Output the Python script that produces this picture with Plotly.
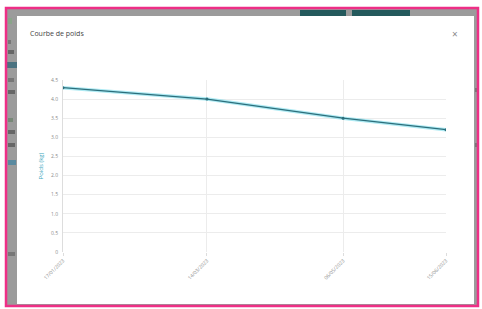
import plotly.graph_objects as go

# Data
dates = ["2023-01-17", "2023-03-14", "2023-05-06", "2023-06-15"]
date_labels = ["17/01/2023", "14/03/2023", "06/05/2023", "15/06/2023"]
weights = [4.3, 4.0, 3.5, 3.2]
y_ticks = [0, 0.5, 1.0, 1.5, 2.0, 2.5, 3.0, 3.5, 4.0, 4.5]
y_tick_text = ["0", "0.5", "1.0", "1.5", "2.0", "2.5", "3.0", "3.5", "4.0", "4.5"]
title_text = "Courbe de poids"
y_title = "Poids (kg)"

W, H = 482, 309
L, R, T, B = 63, 36, 80, 57
PW, PH = W - L - R, H - T - B

fig = go.Figure()
fig.add_trace(go.Scatter(x=dates, y=weights, mode="lines",
                         line=dict(color="rgba(120,220,235,0.6)", width=3.5),
                         hoverinfo="skip", showlegend=False))
fig.add_trace(go.Scatter(x=dates, y=weights, mode="lines+markers",
                         line=dict(color="#2c6f7c", width=1.3),
                         marker=dict(size=3, color="#2c6f7c"),
                         showlegend=False))

def fx(x):
    return (x - L) / PW

def fy(y):
    return (H - B - y) / PH

shapes = []
def rect(x0, y0, x1, y1, color, layer="below"):
    shapes.append(dict(type="rect", xref="paper", yref="paper", layer=layer,
                       x0=fx(x0), x1=fx(x1), y0=fy(y1), y1=fy(y0),
                       fillcolor=color, line=dict(width=0)))

# gray overlay page
rect(6, 8, 478, 306, "#9b9b9b")
# background teal buttons
rect(300, 10, 346, 17, "#23595c")
rect(352, 10, 410, 17, "#23595c")
# blurred left strip content
rect(8, 18, 12, 24, "#8aa58a")
rect(8, 40, 11, 44, "#777777")
rect(8, 50, 14, 54, "#666666")
rect(7, 62, 17, 68, "#4a7280")
rect(8, 78, 14, 82, "#777777")
rect(8, 90, 15, 94, "#666666")
rect(8, 118, 13, 122, "#778877")
rect(8, 130, 15, 134, "#666666")
rect(8, 143, 15, 147, "#666666")
rect(8, 160, 16, 165, "#5a8aa0")
rect(8, 252, 15, 256, "#777777")
rect(475, 88, 478, 92, "#777777")
rect(475, 143, 478, 147, "#777777")
# modal
rect(17, 16, 474, 304, "#ffffff")
# pink frame
shapes.append(dict(type="rect", xref="paper", yref="paper", layer="above",
                   x0=fx(6), x1=fx(478), y0=fy(306), y1=fy(8),
                   line=dict(color="#ee2f86", width=2.5), fillcolor="rgba(0,0,0,0)"))

annotations = [
    dict(text=title_text, x=fx(28), y=fy(34), xref="paper", yref="paper",
         xanchor="left", yanchor="middle", showarrow=False,
         font=dict(size=7, color="#444444", family="Open Sans")),
    dict(text="×", x=fx(455), y=fy(34), xref="paper", yref="paper",
         xanchor="center", yanchor="middle", showarrow=False,
         font=dict(size=10, color="#888888", family="Open Sans")),
]

fig.update_layout(
    width=W, height=H,
    margin=dict(l=L, r=R, t=T, b=B, pad=0),
    paper_bgcolor="#ffffff", plot_bgcolor="rgba(0,0,0,0)",
    shapes=shapes, annotations=annotations,
    font=dict(family="Open Sans", size=5, color="#999999"),
    xaxis=dict(type="date", range=[dates[0], dates[-1]],
               tickvals=dates, ticktext=date_labels, tickangle=-45,
               showgrid=True, gridcolor="#ececec", gridwidth=1,
               zeroline=False, showline=False,
               ticks="outside", ticklen=3, tickcolor="#dddddd",
               tickfont=dict(size=5, color="#8a8a8a")),
    yaxis=dict(range=[0, 4.5], tickvals=y_ticks, ticktext=y_tick_text,
               showgrid=True, gridcolor="#ececec", gridwidth=1,
               zeroline=False, showline=True, linecolor="#dddddd",
               ticks="outside", ticklen=3, tickcolor="#ffffff",
               tickfont=dict(size=5, color="#8a8a8a"),
               title=dict(text=y_title, font=dict(size=6, color="#3aa6bd"), standoff=6)),
)

fig.write_html("out.html", config={"displayModeBar": False},
               post_script="document.body.style.margin='0';")
